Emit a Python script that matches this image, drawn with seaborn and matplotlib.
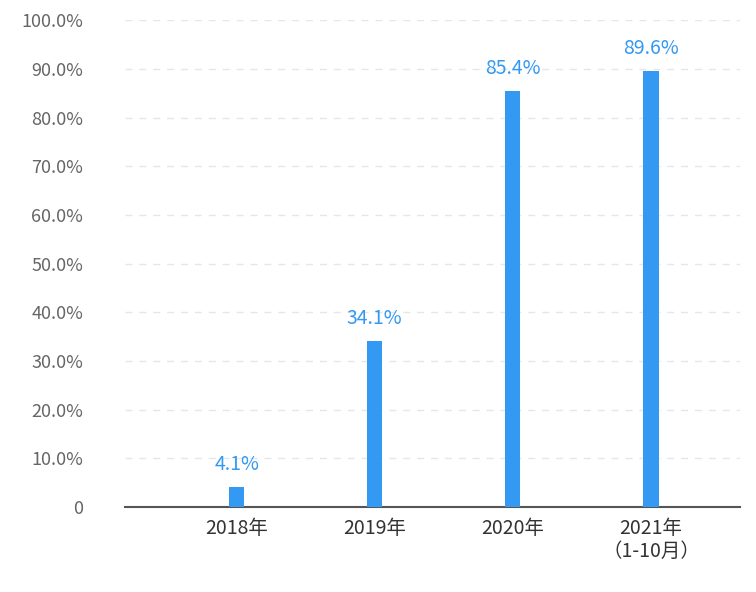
import matplotlib
matplotlib.use("Agg")
import matplotlib.pyplot as plt
from matplotlib import font_manager as fm
import seaborn as sns
import pandas as pd

categories = ["2018年", "2019年", "2020年", "2021年\n（1-10月）"]
values = [4.1, 34.1, 85.4, 89.6]
yticks = [0, 10, 20, 30, 40, 50, 60, 70, 80, 90, 100]
ytick_labels = ["0"] + [f"{v:.1f}%" for v in yticks[1:]]

cjk = None
for f in fm.fontManager.ttflist:
    if "CJK" in f.name and ("SC" in f.name or cjk is None):
        cjk = f
        if "SC" in f.name:
            break
if cjk is not None:
    fm.fontManager.addfont(cjk.fname)
    fam = cjk.name
else:
    fam = "DejaVu Sans"
plt.rcParams["font.family"] = [fam, "DejaVu Sans"]
df = pd.DataFrame({"cat": categories, "val": values})

fig = plt.figure(figsize=(7.56, 5.92), dpi=100)
ax = fig.add_axes([0.165, 0.1436, 0.814, 0.8224])
blue = "#3399f3"
sns.barplot(data=df, x="cat", y="val", color=blue, width=0.11, saturation=1, ax=ax, zorder=3)
ax.set_xlim(-0.81, 3.645)
ax.set_ylim(0, 100)
ax.set_yticks(yticks)
ax.set_yticklabels(ytick_labels, color="#666666", fontsize=13, family=fam)
ax.set_xticks(range(len(categories)))
ax.set_xticklabels(categories, fontsize=14, color="#333333", family=fam, linespacing=1.1)
ax.tick_params(axis="x", length=0, pad=8)
ax.tick_params(axis="y", length=0, pad=30)
ax.grid(axis="y", linestyle=(0, (5, 5)), color="#e6e6e6", linewidth=1, zorder=0)
for s in ["top", "right", "left"]:
    ax.spines[s].set_visible(False)
ax.spines["bottom"].set_color("#555555")
ax.spines["bottom"].set_linewidth(1.5)
ax.set_xlabel("")
ax.set_ylabel("")
for i, v in enumerate(values):
    ax.text(i, v + 2.5, f"{v}%", ha="center", va="bottom", color=blue, fontsize=14, family=fam)
fig.savefig("out.png", dpi=100)
